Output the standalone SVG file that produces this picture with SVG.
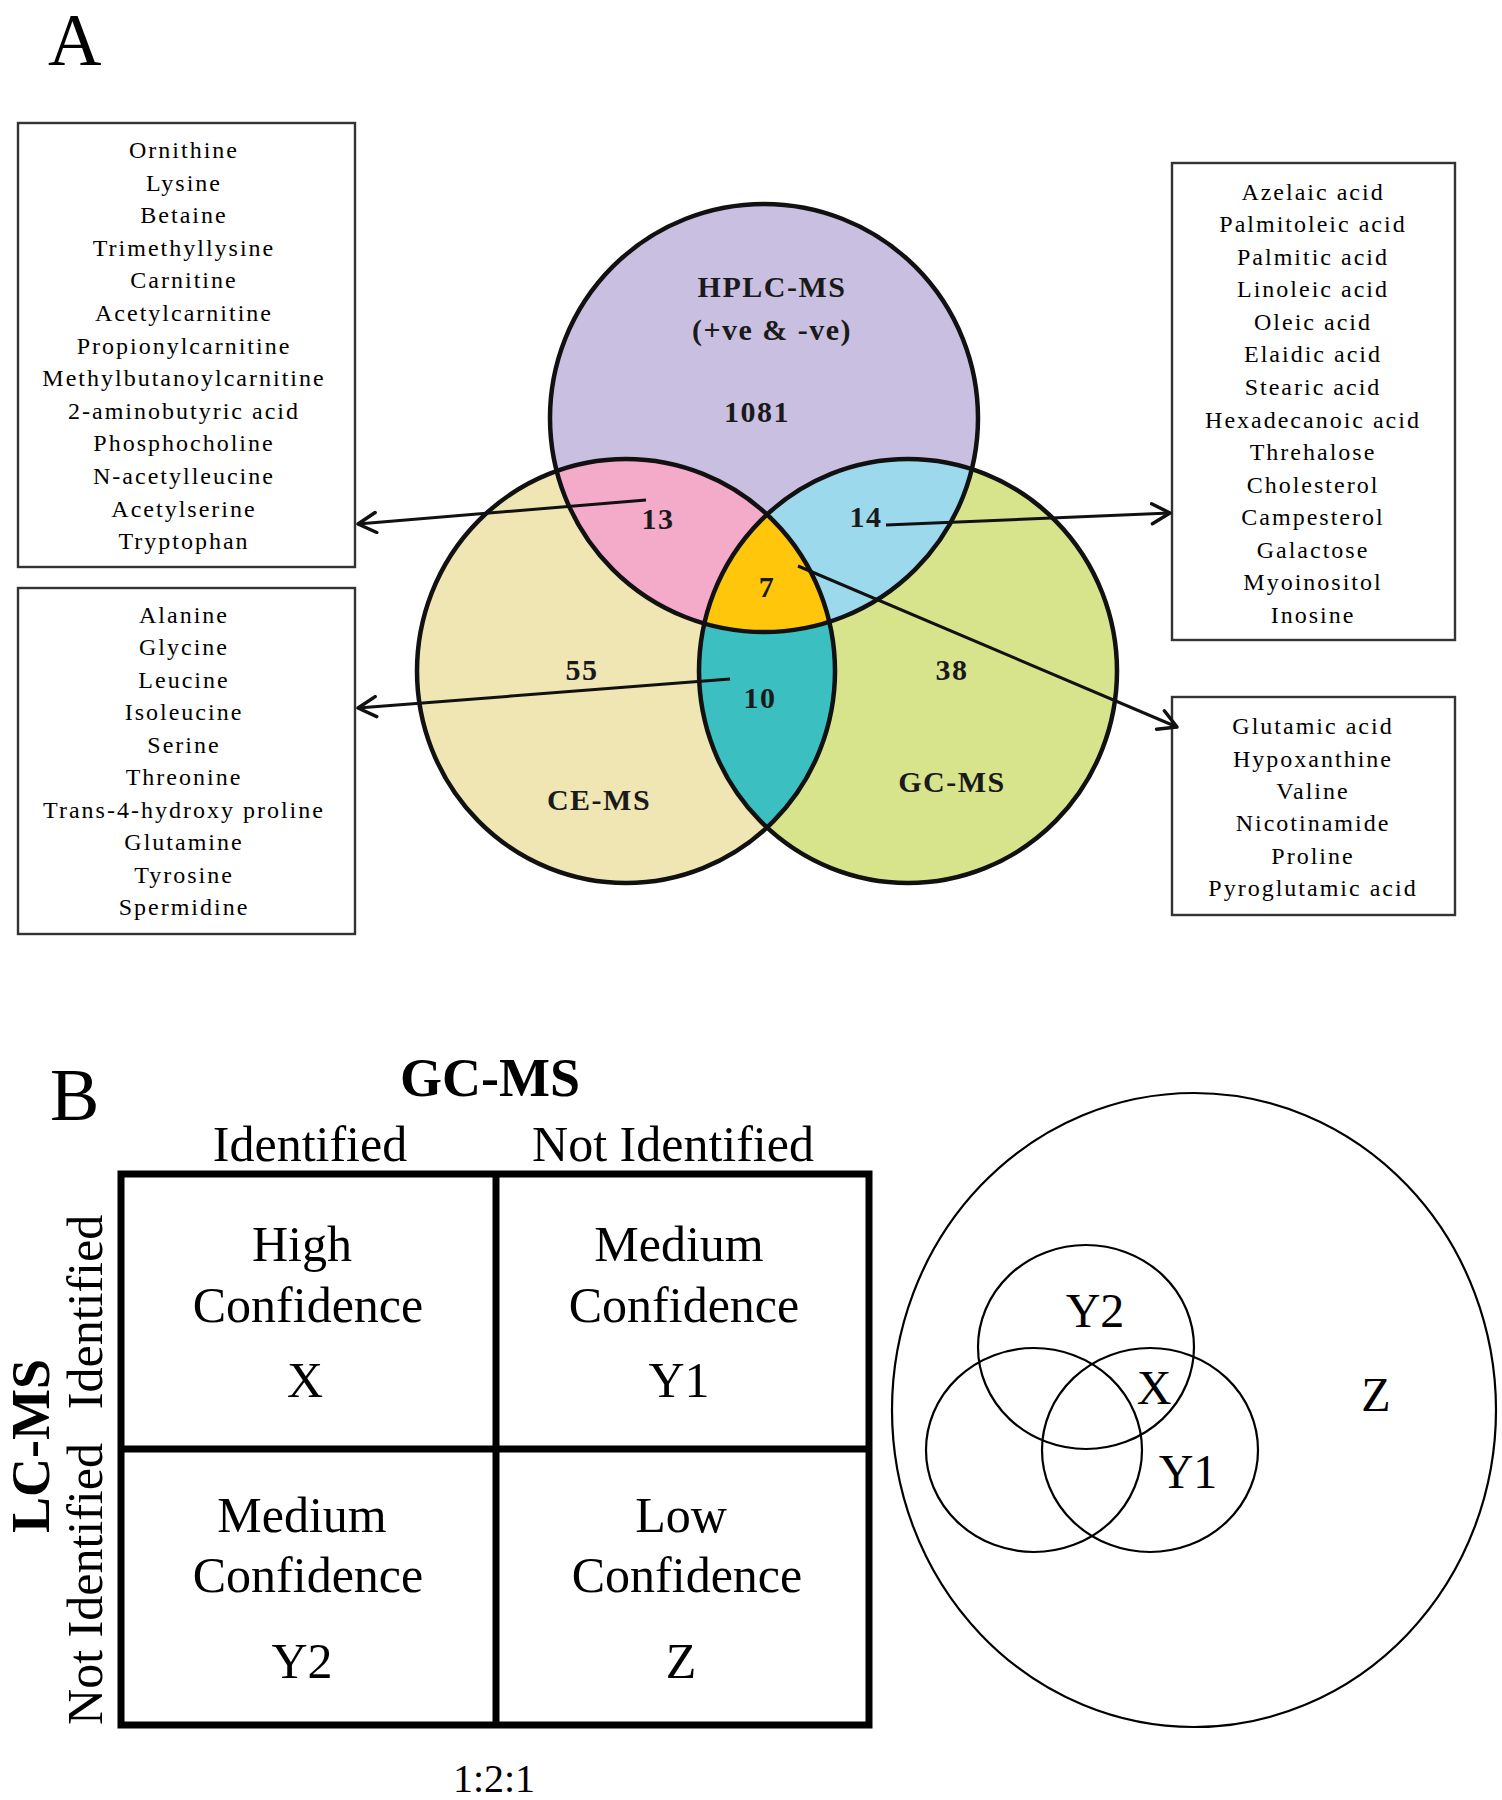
<svg xmlns="http://www.w3.org/2000/svg" width="1502" height="1800" viewBox="0 0 1502 1800">
<style>
.bg{fill:#fff}
.box{fill:#fff;stroke:#333;stroke-width:2.4}
.lst{font-family:"Liberation Serif",serif;font-size:24px;letter-spacing:2px;text-anchor:middle;fill:#000}
.vl{font-family:"Liberation Serif",serif;font-size:30px;font-weight:bold;letter-spacing:1.5px;text-anchor:middle;fill:#1a1a1a}
.ring{fill:none;stroke:#111;stroke-width:4.5}
.conn{fill:none;stroke:#111;stroke-width:3}
.big{font-family:"Liberation Serif",serif;font-size:74px;fill:#000}
.t50{font-family:"Liberation Serif",serif;font-size:50px;text-anchor:middle;fill:#000}
.b54{font-family:"Liberation Serif",serif;font-size:54px;font-weight:bold;text-anchor:middle;fill:#000}
.grid{fill:none;stroke:#000;stroke-width:7}
.thin{fill:none;stroke:#000;stroke-width:2.2}
.t47{font-family:"Liberation Serif",serif;font-size:48px;text-anchor:middle;fill:#000}
</style>
<defs>
<marker id="arr" viewBox="0 0 22 24" refX="20" refY="12" markerWidth="22" markerHeight="24" markerUnits="userSpaceOnUse" orient="auto">
<path d="M2,2 L20,12 L2,22" fill="none" stroke="#111" stroke-width="3.5" stroke-linecap="round" stroke-linejoin="round"/>
</marker>
<clipPath id="cCE"><ellipse cx="626" cy="671" rx="209" ry="212"/></clipPath>
<clipPath id="cGC"><ellipse cx="908" cy="671" rx="209" ry="212"/></clipPath>
</defs>
<rect class="bg" x="0" y="0" width="1502" height="1800"/>

<text class="big" x="48" y="65">A</text>

<g id="venn-a">
<ellipse cx="626" cy="671" rx="209" ry="212" fill="#efe6b4"/>
<ellipse cx="908" cy="671" rx="209" ry="212" fill="#d7e48b"/>
<circle cx="764" cy="418" r="214" fill="#c9bfe0"/>
<g clip-path="url(#cCE)"><ellipse cx="908" cy="671" rx="209" ry="212" fill="#3bbfc0"/></g>
<g clip-path="url(#cCE)"><circle cx="764" cy="418" r="214" fill="#f4aac9"/></g>
<g clip-path="url(#cGC)"><circle cx="764" cy="418" r="214" fill="#9cd9ec"/></g>
<g clip-path="url(#cCE)"><g clip-path="url(#cGC)"><circle cx="764" cy="418" r="214" fill="#ffc60b"/></g></g>
<circle class="ring" cx="764" cy="418" r="214"/>
<ellipse class="ring" cx="626" cy="671" rx="209" ry="212"/>
<ellipse class="ring" cx="908" cy="671" rx="209" ry="212"/>
</g>

<g id="venn-labels">
<text class="vl" x="772" y="297">HPLC-MS</text>
<text class="vl" x="772" y="340">(+ve &amp; -ve)</text>
<text class="vl" x="757" y="422">1081</text>
<text class="vl" x="658" y="529">13</text>
<text class="vl" x="866" y="527">14</text>
<text class="vl" x="767" y="597">7</text>
<text class="vl" x="582" y="680">55</text>
<text class="vl" x="760" y="708">10</text>
<text class="vl" x="952" y="680">38</text>
<text class="vl" x="599" y="810">CE-MS</text>
<text class="vl" x="952" y="792">GC-MS</text>
</g>

<g id="box-hplc-ce">
<rect class="box" x="18" y="123" width="337" height="444"/>
<text class="lst" x="184" y="158">Ornithine</text>
<text class="lst" x="184" y="191">Lysine</text>
<text class="lst" x="184" y="223">Betaine</text>
<text class="lst" x="184" y="256">Trimethyllysine</text>
<text class="lst" x="184" y="288">Carnitine</text>
<text class="lst" x="184" y="321">Acetylcarnitine</text>
<text class="lst" x="184" y="354">Propionylcarnitine</text>
<text class="lst" x="184" y="386">Methylbutanoylcarnitine</text>
<text class="lst" x="184" y="419">2-aminobutyric acid</text>
<text class="lst" x="184" y="451">Phosphocholine</text>
<text class="lst" x="184" y="484">N-acetylleucine</text>
<text class="lst" x="184" y="517">Acetylserine</text>
<text class="lst" x="184" y="549">Tryptophan</text>
</g>

<g id="box-ce-gc">
<rect class="box" x="18" y="588" width="337" height="346"/>
<text class="lst" x="184" y="623">Alanine</text>
<text class="lst" x="184" y="655">Glycine</text>
<text class="lst" x="184" y="688">Leucine</text>
<text class="lst" x="184" y="720">Isoleucine</text>
<text class="lst" x="184" y="753">Serine</text>
<text class="lst" x="184" y="785">Threonine</text>
<text class="lst" x="184" y="818">Trans-4-hydroxy proline</text>
<text class="lst" x="184" y="850">Glutamine</text>
<text class="lst" x="184" y="883">Tyrosine</text>
<text class="lst" x="184" y="915">Spermidine</text>
</g>

<g id="box-hplc-gc">
<rect class="box" x="1172" y="163" width="283" height="477"/>
<text class="lst" x="1313" y="200">Azelaic acid</text>
<text class="lst" x="1313" y="232">Palmitoleic acid</text>
<text class="lst" x="1313" y="265">Palmitic acid</text>
<text class="lst" x="1313" y="297">Linoleic acid</text>
<text class="lst" x="1313" y="330">Oleic acid</text>
<text class="lst" x="1313" y="362">Elaidic acid</text>
<text class="lst" x="1313" y="395">Stearic acid</text>
<text class="lst" x="1313" y="428">Hexadecanoic acid</text>
<text class="lst" x="1313" y="460">Threhalose</text>
<text class="lst" x="1313" y="493">Cholesterol</text>
<text class="lst" x="1313" y="525">Campesterol</text>
<text class="lst" x="1313" y="558">Galactose</text>
<text class="lst" x="1313" y="590">Myoinositol</text>
<text class="lst" x="1313" y="623">Inosine</text>
</g>

<g id="box-all">
<rect class="box" x="1172" y="697" width="283" height="218"/>
<text class="lst" x="1313" y="734">Glutamic acid</text>
<text class="lst" x="1313" y="767">Hypoxanthine</text>
<text class="lst" x="1313" y="799">Valine</text>
<text class="lst" x="1313" y="831">Nicotinamide</text>
<text class="lst" x="1313" y="864">Proline</text>
<text class="lst" x="1313" y="896">Pyroglutamic acid</text>
</g>

<g id="connectors">
<line class="conn" x1="646" y1="500" x2="358" y2="524" marker-end="url(#arr)"/>
<line class="conn" x1="886" y1="525" x2="1170" y2="513" marker-end="url(#arr)"/>
<line class="conn" x1="798" y1="566" x2="1177" y2="727" marker-end="url(#arr)"/>
<line class="conn" x1="730" y1="679" x2="358" y2="708" marker-end="url(#arr)"/>
</g>

<text class="big" x="50" y="1120">B</text>

<g id="matrix">
<text class="b54" x="490" y="1096">GC-MS</text>
<text class="t50" x="310" y="1161">Identified</text>
<text class="t50" x="673" y="1161">Not Identified</text>
<text class="b54" transform="translate(49,1446) rotate(-90)">LC-MS</text>
<text class="t50" transform="translate(102,1312) rotate(-90)">Identified</text>
<text class="t50" transform="translate(102,1584) rotate(-90)">Not Identified</text>
<rect class="grid" x="121" y="1174" width="748" height="551"/>
<line class="grid" x1="496" y1="1174" x2="496" y2="1725"/>
<line class="grid" x1="121" y1="1449" x2="869" y2="1449"/>
<g id="cell-x">
<text class="t50" x="302" y="1261">High</text>
<text class="t50" x="308" y="1322">Confidence</text>
<text class="t50" x="305" y="1397">X</text>
</g>
<g id="cell-y1">
<text class="t50" x="679" y="1261">Medium</text>
<text class="t50" x="684" y="1322">Confidence</text>
<text class="t50" x="679" y="1397">Y1</text>
</g>
<g id="cell-y2">
<text class="t50" x="302" y="1532">Medium</text>
<text class="t50" x="308" y="1592">Confidence</text>
<text class="t50" x="302" y="1678">Y2</text>
</g>
<g id="cell-z">
<text class="t50" x="681" y="1532">Low</text>
<text class="t50" x="687" y="1592">Confidence</text>
<text class="t50" x="681" y="1678">Z</text>
</g>
<text class="t50" x="494" y="1792" style="font-size:40px">1:2:1</text>
</g>

<g id="venn-b">
<ellipse class="thin" cx="1194" cy="1410" rx="302" ry="317"/>
<ellipse class="thin" cx="1086" cy="1347" rx="108" ry="102"/>
<ellipse class="thin" cx="1034" cy="1450" rx="108" ry="102"/>
<ellipse class="thin" cx="1150" cy="1450" rx="108" ry="102"/>
<text class="t47" x="1095" y="1327">Y2</text>
<text class="t47" x="1154" y="1404">X</text>
<text class="t47" x="1188" y="1488">Y1</text>
<text class="t47" x="1376" y="1411">Z</text>
</g>
</svg>
